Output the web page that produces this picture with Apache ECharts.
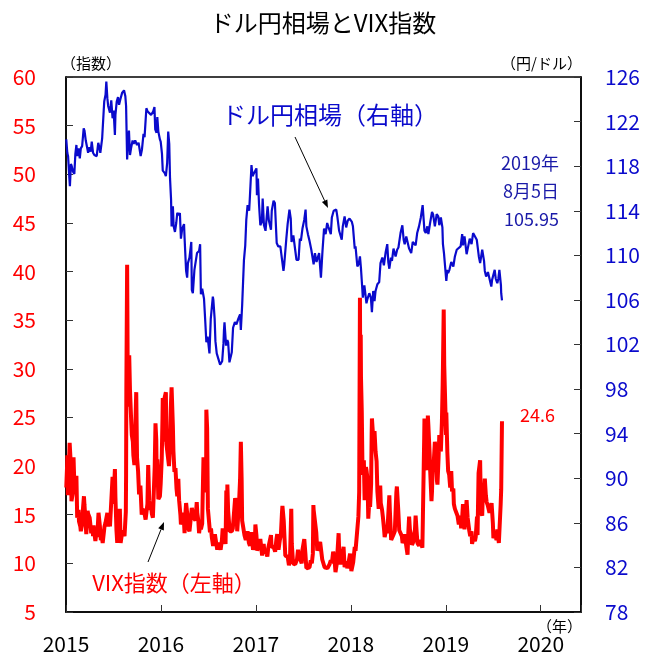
<!DOCTYPE html>
<html>
<head>
<meta charset="utf-8">
<script src="https://cdn.jsdelivr.net/npm/echarts@6/dist/echarts.min.js"></script>
<style>
html, body { margin: 0; padding: 0; background: #fff; }
#chart { width: 646px; height: 655px; }
</style>
</head>
<body>
<div id="chart"></div>
<script>
// ドル円相場 (右軸, 円/ドル) [日付, 値]
const jpyData = [
  ['2015-01-02',120.4],['2015-01-06',119.2],['2015-01-09',118.9],['2015-01-14',116.9],['2015-01-16',116.2],['2015-01-20',118.2],
  ['2015-01-23',118.0],['2015-01-28',117.5],['2015-02-02',117.3],['2015-02-06',119.1],['2015-02-10',119.9],['2015-02-13',118.9],
  ['2015-02-18',119.6],['2015-02-23',118.7],['2015-02-27',119.6],['2015-03-04',119.8],['2015-03-10',121.4],['2015-03-13',121.2],
  ['2015-03-18',120.3],['2015-03-23',119.7],['2015-03-27',119.2],['2015-04-01',119.7],['2015-04-06',119.3],['2015-04-10',120.2],
  ['2015-04-15',119.2],['2015-04-20',119.0],['2015-04-24',118.9],['2015-04-29',118.9],['2015-05-05',120.1],['2015-05-08',119.8],
  ['2015-05-13',119.2],['2015-05-20',120.5],['2015-05-26',123.0],['2015-05-28',123.8],['2015-06-02',124.4],['2015-06-05',125.6],
  ['2015-06-09',124.1],['2015-06-12',123.4],['2015-06-17',123.4],['2015-06-19',122.8],['2015-06-24',123.9],['2015-06-29',122.3],
  ['2015-07-03',123.0],['2015-07-08',120.8],['2015-07-10',122.6],['2015-07-15',123.8],['2015-07-20',124.2],['2015-07-24',123.5],
  ['2015-07-29',124.0],['2015-08-05',124.6],['2015-08-12',124.8],['2015-08-17',124.3],['2015-08-20',123.4],['2015-08-24',118.6],
  ['2015-08-27',120.0],['2015-08-31',121.2],['2015-09-04',119.0],['2015-09-08',119.6],['2015-09-14',120.3],['2015-09-18',120.0],
  ['2015-09-24',120.3],['2015-10-01',119.9],['2015-10-07',120.1],['2015-10-15',118.9],['2015-10-20',119.5],['2015-10-26',120.9],
  ['2015-10-30',120.6],['2015-11-06',123.2],['2015-11-11',122.9],['2015-11-18',123.0],['2015-11-24',122.6],['2015-12-02',122.9],
  ['2015-12-07',123.3],['2015-12-10',121.3],['2015-12-15',121.0],['2015-12-18',122.4],['2015-12-22',121.1],['2015-12-28',120.4],
  ['2015-12-31',120.2],['2016-01-05',119.1],['2016-01-08',117.6],['2016-01-12',117.5],['2016-01-15',117.4],['2016-01-20',117.1],
  ['2016-01-25',118.3],['2016-01-29',121.1],['2016-02-02',120.0],['2016-02-05',116.9],['2016-02-09',115.0],['2016-02-11',112.6],
  ['2016-02-16',114.4],['2016-02-19',112.6],['2016-02-24',112.1],['2016-02-29',112.9],['2016-03-04',113.8],['2016-03-10',113.6],
  ['2016-03-14',113.8],['2016-03-18',111.5],['2016-03-23',112.4],['2016-03-30',112.8],['2016-04-01',111.6],['2016-04-07',108.6],
  ['2016-04-11',108.0],['2016-04-14',109.3],['2016-04-20',109.8],['2016-04-27',111.2],['2016-04-29',106.9],['2016-05-03',106.6],
  ['2016-05-09',108.7],['2016-05-13',108.7],['2016-05-19',110.2],['2016-05-27',110.4],['2016-05-31',111.0],['2016-06-03',106.5],
  ['2016-06-08',107.0],['2016-06-15',106.1],['2016-06-20',104.0],['2016-06-24',102.2],['2016-06-29',102.7],['2016-07-06',101.2],
  ['2016-07-11',104.3],['2016-07-19',106.3],['2016-07-21',106.0],['2016-07-26',104.3],['2016-07-29',102.3],['2016-08-03',101.2],
  ['2016-08-10',101.2],['2016-08-16',100.2],['2016-08-18',100.1],['2016-08-24',100.5],['2016-08-29',102.1],['2016-08-31',103.3],
  ['2016-09-02',104.0],['2016-09-08',101.9],['2016-09-13',102.4],['2016-09-16',102.2],['2016-09-21',100.4],['2016-09-27',100.5],
  ['2016-09-30',101.3],['2016-10-05',103.5],['2016-10-12',104.0],['2016-10-18',103.8],['2016-10-25',104.3],['2016-11-01',104.7],
  ['2016-11-04',103.3],['2016-11-09',105.5],['2016-11-11',106.7],['2016-11-16',109.6],['2016-11-21',110.9],['2016-11-25',113.2],
  ['2016-11-30',114.5],['2016-12-06',114.0],['2016-12-09',115.3],['2016-12-15',118.1],['2016-12-19',117.1],['2016-12-23',117.3],
  ['2016-12-28',117.4],['2017-01-03',117.8],['2017-01-05',115.4],['2017-01-09',116.9],['2017-01-13',114.6],['2017-01-18',112.7],
  ['2017-01-24',113.0],['2017-01-27',115.1],['2017-02-01',112.7],['2017-02-07',112.2],['2017-02-15',114.4],['2017-02-20',113.1],
  ['2017-02-28',112.3],['2017-03-03',114.0],['2017-03-10',114.9],['2017-03-15',114.7],['2017-03-22',111.1],['2017-03-28',110.8],
  ['2017-04-05',110.8],['2017-04-11',110.7],['2017-04-17',108.6],['2017-04-20',109.2],['2017-04-28',111.5],['2017-05-03',112.8],
  ['2017-05-10',114.1],['2017-05-15',113.3],['2017-05-18',111.2],['2017-05-25',111.8],['2017-06-01',110.5],['2017-06-06',109.6],
  ['2017-06-14',109.6],['2017-06-19',111.5],['2017-06-23',111.3],['2017-06-29',112.4],['2017-07-06',113.2],['2017-07-11',114.1],
  ['2017-07-14',112.6],['2017-07-20',111.9],['2017-07-26',111.3],['2017-08-02',110.5],['2017-08-08',110.6],['2017-08-11',109.2],
  ['2017-08-16',110.2],['2017-08-22',109.4],['2017-08-29',109.4],['2017-09-01',110.2],['2017-09-08',108.0],['2017-09-14',110.4],
  ['2017-09-20',112.4],['2017-09-26',111.9],['2017-10-02',112.9],['2017-10-06',112.6],['2017-10-16',111.9],['2017-10-20',113.4],
  ['2017-10-27',114.0],['2017-11-06',114.1],['2017-11-10',113.5],['2017-11-17',112.2],['2017-11-27',111.4],['2017-12-01',112.6],
  ['2017-12-08',113.5],['2017-12-14',112.5],['2017-12-20',113.1],['2017-12-27',113.3],['2018-01-05',113.0],['2018-01-09',112.6],
  ['2018-01-16',110.6],['2018-01-19',110.8],['2018-01-26',109.0],['2018-01-31',109.2],['2018-02-05',109.9],['2018-02-09',108.8],
  ['2018-02-14',107.0],['2018-02-16',106.2],['2018-02-22',107.3],['2018-03-02',105.7],['2018-03-06',106.1],['2018-03-13',106.6],
  ['2018-03-19',106.2],['2018-03-23',104.9],['2018-03-28',106.8],['2018-04-02',105.9],['2018-04-06',106.8],['2018-04-13',107.4],
  ['2018-04-20',107.6],['2018-04-25',109.3],['2018-05-02',109.8],['2018-05-08',109.1],['2018-05-15',110.3],['2018-05-21',111.0],
  ['2018-05-25',109.4],['2018-05-29',108.8],['2018-06-04',109.8],['2018-06-08',109.5],['2018-06-14',110.6],['2018-06-22',109.9],
  ['2018-06-28',110.5],['2018-07-03',110.7],['2018-07-11',112.0],['2018-07-18',112.7],['2018-07-23',111.4],['2018-07-27',111.0],
  ['2018-08-02',111.7],['2018-08-13',110.6],['2018-08-21',110.2],['2018-08-27',111.2],['2018-09-07',110.9],['2018-09-13',112.0],
  ['2018-09-20',112.6],['2018-09-27',113.4],['2018-10-04',114.5],['2018-10-11',112.2],['2018-10-16',112.0],['2018-10-22',112.6],
  ['2018-10-26',111.9],['2018-11-01',112.8],['2018-11-09',113.9],['2018-11-13',113.7],['2018-11-20',112.6],['2018-11-27',113.7],
  ['2018-12-03',113.5],['2018-12-07',112.7],['2018-12-13',113.4],['2018-12-19',112.5],['2018-12-21',111.0],['2018-12-25',110.2],
  ['2018-12-28',110.2],['2019-01-03',107.7],['2019-01-07',108.7],['2019-01-10',108.4],['2019-01-15',108.7],['2019-01-22',109.4],
  ['2019-01-30',109.0],['2019-02-05',109.9],['2019-02-12',110.5],['2019-02-19',110.6],['2019-02-27',110.8],['2019-03-05',111.9],
  ['2019-03-08',110.9],['2019-03-14',111.7],['2019-03-22',110.1],['2019-03-25',110.0],['2019-04-03',111.5],['2019-04-10',111.0],
  ['2019-04-16',112.0],['2019-04-23',112.0],['2019-04-30',111.4],['2019-05-08',109.9],['2019-05-13',109.3],['2019-05-21',110.5],
  ['2019-05-28',109.5],['2019-05-31',108.6],['2019-06-05',108.1],['2019-06-12',108.5],['2019-06-18',108.4],['2019-06-25',107.2],
  ['2019-06-28',107.8],['2019-07-03',107.8],['2019-07-08',108.7],['2019-07-12',107.9],['2019-07-18',107.5],['2019-07-22',107.9],
  ['2019-07-26',108.7],['2019-07-31',108.6],['2019-08-01',107.3],['2019-08-02',106.6],['2019-08-05',105.95]
];

// VIX指数 (左軸) [日付, 値]
const vixData = [
  ['2015-01-02',17.8],['2015-01-05',19.9],['2015-01-06',21.1],['2015-01-08',17.0],['2015-01-13',20.6],['2015-01-15',22.4],
  ['2015-01-20',19.9],['2015-01-22',16.4],['2015-01-27',17.2],['2015-01-30',20.9],['2015-02-03',17.3],['2015-02-06',17.3],
  ['2015-02-10',19.0],['2015-02-13',14.7],['2015-02-18',15.5],['2015-02-20',14.3],['2015-02-25',13.8],['2015-02-27',13.3],
  ['2015-03-03',13.9],['2015-03-06',15.2],['2015-03-11',16.9],['2015-03-13',16.0],['2015-03-18',13.9],['2015-03-20',13.0],
  ['2015-03-25',15.4],['2015-03-27',15.1],['2015-03-31',15.3],['2015-04-02',14.7],['2015-04-08',13.1],['2015-04-13',13.9],
  ['2015-04-15',12.8],['2015-04-17',13.9],['2015-04-22',12.7],['2015-04-24',12.3],['2015-04-29',13.4],['2015-05-01',12.7],
  ['2015-05-06',15.2],['2015-05-11',13.9],['2015-05-15',12.4],['2015-05-19',12.7],['2015-05-22',12.1],['2015-05-27',13.3],
  ['2015-05-29',13.8],['2015-06-02',14.2],['2015-06-05',14.2],['2015-06-09',15.2],['2015-06-12',13.8],['2015-06-17',14.5],
  ['2015-06-19',13.8],['2015-06-24',14.0],['2015-06-29',18.9],['2015-07-02',16.1],['2015-07-08',19.7],['2015-07-10',16.8],
  ['2015-07-14',13.4],['2015-07-17',12.1],['2015-07-22',12.1],['2015-07-27',15.6],['2015-07-30',12.1],['2015-08-04',13.0],
  ['2015-08-07',13.4],['2015-08-12',13.6],['2015-08-14',12.8],['2015-08-19',15.3],['2015-08-20',19.1],['2015-08-21',28.0],
  ['2015-08-24',40.7],['2015-08-25',36.0],['2015-08-26',30.3],['2015-08-28',26.1],['2015-09-01',31.4],['2015-09-04',27.8],
  ['2015-09-09',24.4],['2015-09-11',23.2],['2015-09-15',22.5],['2015-09-17',21.1],['2015-09-21',20.1],['2015-09-24',23.5],
  ['2015-09-28',27.6],['2015-10-01',20.9],['2015-10-05',19.5],['2015-10-09',17.1],['2015-10-14',18.0],['2015-10-19',15.0],
  ['2015-10-22',15.6],['2015-10-27',15.4],['2015-10-30',15.1],['2015-11-03',14.5],['2015-11-06',14.3],['2015-11-10',16.1],
  ['2015-11-13',20.1],['2015-11-17',16.5],['2015-11-20',15.5],['2015-11-24',15.9],['2015-11-27',15.1],['2015-12-01',14.7],
  ['2015-12-04',14.8],['2015-12-08',19.9],['2015-12-11',24.4],['2015-12-14',22.7],['2015-12-16',17.9],['2015-12-18',20.7],
  ['2015-12-22',16.6],['2015-12-28',16.9],['2015-12-31',18.2],['2016-01-04',20.7],['2016-01-07',25.0],['2016-01-08',27.0],
  ['2016-01-12',22.5],['2016-01-15',27.0],['2016-01-20',27.6],['2016-01-22',22.3],['2016-01-26',22.5],['2016-01-28',22.4],
  ['2016-02-01',20.0],['2016-02-04',21.8],['2016-02-08',26.0],['2016-02-11',28.1],['2016-02-16',24.1],['2016-02-18',21.6],
  ['2016-02-22',19.4],['2016-02-26',19.8],['2016-03-01',17.7],['2016-03-04',16.9],['2016-03-08',18.7],['2016-03-11',16.5],
  ['2016-03-16',15.0],['2016-03-18',14.0],['2016-03-23',14.2],['2016-03-28',15.2],['2016-04-01',13.1],['2016-04-05',15.4],
  ['2016-04-07',16.2],['2016-04-12',14.9],['2016-04-15',13.6],['2016-04-20',13.3],['2016-04-26',13.2],['2016-04-29',15.7],
  ['2016-05-03',15.6],['2016-05-06',14.7],['2016-05-11',14.7],['2016-05-13',14.4],['2016-05-18',16.3],['2016-05-20',15.2],
  ['2016-05-24',14.4],['2016-05-27',13.1],['2016-06-01',14.2],['2016-06-03',13.5],['2016-06-08',14.1],['2016-06-10',17.0],
  ['2016-06-13',20.9],['2016-06-16',19.4],['2016-06-21',18.5],['2016-06-23',17.3],['2016-06-24',25.8],['2016-06-27',23.9],
  ['2016-06-30',15.6],['2016-07-05',15.6],['2016-07-08',13.2],['2016-07-12',13.6],['2016-07-15',12.7],['2016-07-20',11.8],
  ['2016-07-22',12.0],['2016-07-27',13.0],['2016-08-01',13.0],['2016-08-05',11.4],['2016-08-10',12.1],['2016-08-15',11.8],
  ['2016-08-18',11.4],['2016-08-23',12.4],['2016-08-26',13.6],['2016-08-31',13.4],['2016-09-06',12.0],['2016-09-09',17.5],
  ['2016-09-12',15.2],['2016-09-13',18.1],['2016-09-16',15.4],['2016-09-20',15.5],['2016-09-22',13.3],['2016-09-27',13.1],
  ['2016-09-30',13.3],['2016-10-04',13.6],['2016-10-07',13.5],['2016-10-13',16.7],['2016-10-17',16.2],['2016-10-21',13.3],
  ['2016-10-25',13.5],['2016-10-28',16.2],['2016-11-01',18.6],['2016-11-04',22.5],['2016-11-07',18.7],['2016-11-09',14.4],
  ['2016-11-14',14.5],['2016-11-18',12.9],['2016-11-23',12.4],['2016-11-30',13.3],['2016-12-05',12.1],['2016-12-09',11.8],
  ['2016-12-14',13.2],['2016-12-21',11.4],['2016-12-28',12.0],['2016-12-30',14.0],['2017-01-03',12.9],['2017-01-06',11.3],
  ['2017-01-11',11.5],['2017-01-13',11.2],['2017-01-18',12.5],['2017-01-25',10.8],['2017-01-31',12.0],['2017-02-03',11.0],
  ['2017-02-07',11.4],['2017-02-14',10.7],['2017-02-17',11.5],['2017-02-22',11.7],['2017-02-28',12.9],['2017-03-02',11.7],
  ['2017-03-07',11.5],['2017-03-10',11.7],['2017-03-16',11.2],['2017-03-21',12.5],['2017-03-24',13.0],['2017-03-29',11.4],
  ['2017-04-03',12.4],['2017-04-07',12.9],['2017-04-11',15.1],['2017-04-13',15.9],['2017-04-18',14.4],['2017-04-21',14.6],
  ['2017-04-24',10.8],['2017-04-28',10.8],['2017-05-03',10.7],['2017-05-08',9.8],['2017-05-12',10.4],['2017-05-17',15.6],
  ['2017-05-19',12.0],['2017-05-24',10.0],['2017-05-26',9.8],['2017-06-01',9.9],['2017-06-05',10.1],['2017-06-08',10.4],
  ['2017-06-12',11.4],['2017-06-15',10.9],['2017-06-20',10.9],['2017-06-26',10.0],['2017-06-29',11.4],['2017-07-06',12.5],
  ['2017-07-10',11.1],['2017-07-14',9.5],['2017-07-21',9.4],['2017-07-26',9.6],['2017-07-31',10.3],['2017-08-04',10.0],
  ['2017-08-08',11.0],['2017-08-10',16.0],['2017-08-11',15.5],['2017-08-17',15.6],['2017-08-21',13.2],['2017-08-25',11.3],
  ['2017-08-29',11.7],['2017-09-05',12.2],['2017-09-08',12.1],['2017-09-13',10.4],['2017-09-18',10.2],['2017-09-22',9.6],
  ['2017-09-28',9.6],['2017-10-03',9.5],['2017-10-06',9.7],['2017-10-11',9.9],['2017-10-16',10.3],['2017-10-20',10.0],
  ['2017-10-25',11.2],['2017-10-30',10.5],['2017-11-03',9.1],['2017-11-08',10.0],['2017-11-15',13.1],['2017-11-17',11.4],
  ['2017-11-22',9.9],['2017-11-29',10.7],['2017-12-04',11.7],['2017-12-08',9.6],['2017-12-13',10.2],['2017-12-18',9.5],
  ['2017-12-22',9.9],['2017-12-29',11.0],['2018-01-03',9.2],['2018-01-05',9.2],['2018-01-10',10.1],['2018-01-16',11.7],
  ['2018-01-19',11.3],['2018-01-24',11.5],['2018-01-26',11.1],['2018-01-30',14.8],['2018-02-02',17.3],['2018-02-05',37.3],
  ['2018-02-06',30.0],['2018-02-08',33.5],['2018-02-09',29.1],['2018-02-12',25.6],['2018-02-15',19.1],['2018-02-20',20.6],
  ['2018-02-23',16.5],['2018-02-28',19.9],['2018-03-02',19.6],['2018-03-06',18.7],['2018-03-09',14.6],['2018-03-13',16.4],
  ['2018-03-16',15.8],['2018-03-20',18.2],['2018-03-22',23.3],['2018-03-23',24.9],['2018-03-28',22.9],['2018-04-02',23.6],
  ['2018-04-06',21.5],['2018-04-10',20.5],['2018-04-13',17.4],['2018-04-18',15.6],['2018-04-24',18.0],['2018-04-26',16.2],
  ['2018-05-01',15.5],['2018-05-04',14.8],['2018-05-09',13.4],['2018-05-11',12.7],['2018-05-16',13.4],['2018-05-21',13.1],
  ['2018-05-25',13.2],['2018-05-29',17.0],['2018-05-31',15.4],['2018-06-05',12.4],['2018-06-08',12.2],['2018-06-13',12.9],
  ['2018-06-19',13.3],['2018-06-25',17.3],['2018-06-27',17.9],['2018-07-02',15.6],['2018-07-06',13.4],['2018-07-11',13.6],
  ['2018-07-16',12.8],['2018-07-19',12.1],['2018-07-24',12.4],['2018-07-27',13.0],['2018-08-01',13.2],['2018-08-03',11.6],
  ['2018-08-07',10.9],['2018-08-10',13.2],['2018-08-13',14.8],['2018-08-16',13.5],['2018-08-21',12.9],['2018-08-24',11.9],
  ['2018-08-29',12.2],['2018-09-04',13.2],['2018-09-07',14.9],['2018-09-11',13.2],['2018-09-14',12.1],['2018-09-20',11.8],
  ['2018-09-26',12.4],['2018-10-03',11.6],['2018-10-05',14.8],['2018-10-10',22.9],['2018-10-11',24.9],['2018-10-15',21.3],
  ['2018-10-18',20.1],['2018-10-22',19.6],['2018-10-24',25.2],['2018-10-26',24.2],['2018-10-31',21.2],['2018-11-02',19.5],
  ['2018-11-07',16.4],['2018-11-09',17.4],['2018-11-12',20.5],['2018-11-15',20.0],['2018-11-20',22.5],['2018-11-23',21.5],
  ['2018-11-28',18.5],['2018-11-30',18.1],['2018-12-04',20.7],['2018-12-07',23.2],['2018-12-10',22.6],['2018-12-13',21.5],
  ['2018-12-17',24.5],['2018-12-20',28.4],['2018-12-21',30.1],['2018-12-24',36.1],['2018-12-26',30.4],['2018-12-28',28.3],
  ['2019-01-02',23.2],['2019-01-03',25.5],['2019-01-07',21.4],['2019-01-10',19.5],['2019-01-14',19.1],['2019-01-18',17.8],
  ['2019-01-22',19.5],['2019-01-25',17.4],['2019-01-30',17.7],['2019-02-01',16.1],['2019-02-05',15.6],['2019-02-08',15.7],
  ['2019-02-12',15.4],['2019-02-15',14.9],['2019-02-20',14.0],['2019-02-26',14.9],['2019-03-01',13.6],['2019-03-05',14.7],
  ['2019-03-08',16.1],['2019-03-11',14.3],['2019-03-14',13.5],['2019-03-19',13.6],['2019-03-22',16.5],['2019-03-26',14.7],
  ['2019-04-01',13.4],['2019-04-05',12.8],['2019-04-10',13.3],['2019-04-12',12.0],['2019-04-17',12.6],['2019-04-23',12.3],
  ['2019-04-26',12.7],['2019-05-01',14.8],['2019-05-03',12.9],['2019-05-07',19.3],['2019-05-09',19.1],['2019-05-13',20.6],
  ['2019-05-16',15.3],['2019-05-21',14.9],['2019-05-23',16.9],['2019-05-29',17.9],['2019-05-31',18.7],['2019-06-04',17.0],
  ['2019-06-07',16.3],['2019-06-11',16.0],['2019-06-13',15.8],['2019-06-18',15.2],['2019-06-21',15.4],['2019-06-26',16.2],
  ['2019-07-01',14.1],['2019-07-03',12.6],['2019-07-09',13.0],['2019-07-15',12.4],['2019-07-18',13.5],['2019-07-24',12.1],
  ['2019-07-26',12.2],['2019-07-31',16.1],['2019-08-02',17.6],['2019-08-05',24.6]
];

const FONT = '"Noto Sans CJK JP", "Noto Sans", sans-serif';
const BLUE = '#0a0acc';
const RED = '#ff0000';
const NAVY = '#1a1aa8';

// 日付 → 年 (小数)
function toYear(s) {
  const p = s.split('-').map(Number);
  const t = Date.UTC(p[0], p[1] - 1, p[2]);
  const a = Date.UTC(p[0], 0, 1);
  const b = Date.UTC(p[0] + 1, 0, 1);
  return p[0] + (t - a) / (b - a);
}

function toSeries(rows) {
  return rows.map(r => [toYear(r[0]), r[1]]);
}

// 矢印 (線 + 三角)
function arrow(x1, y1, x2, y2) {
  const dx = x2 - x1, dy = y2 - y1;
  const len = Math.sqrt(dx * dx + dy * dy);
  const ux = dx / len, uy = dy / len;
  const bx = x2 - ux * 8, by = y2 - uy * 8;
  return [
    { type: 'line', shape: { x1: x1, y1: y1, x2: bx, y2: by }, style: { stroke: '#000', lineWidth: 1 } },
    { type: 'polygon', shape: { points: [[x2, y2], [bx - uy * 3, by + ux * 3], [bx + uy * 3, by - ux * 3]] }, style: { fill: '#000' } }
  ];
}

function text(x, y, str, size, color, align) {
  return {
    type: 'text', x: x, y: y,
    style: { text: str, fill: color, font: size + 'px ' + FONT, align: align || 'left', verticalAlign: 'middle' }
  };
}

const chart = echarts.init(document.getElementById('chart'));
chart.setOption({
  animation: false,
  backgroundColor: '#fff',
  title: {
    text: 'ドル円相場とVIX指数',
    left: 'center', top: 6,
    textStyle: { fontFamily: FONT, fontSize: 24, fontWeight: 'normal', color: '#000' }
  },
  grid: {
    left: 66, right: 65, top: 77, bottom: 43,
    show: true, borderColor: '#000', borderWidth: 1.5, backgroundColor: 'transparent'
  },
  xAxis: {
    type: 'value', min: 2015, max: 2020.424, interval: 1,
    splitLine: { show: false },
    axisLine: { lineStyle: { color: '#000', width: 1.5 } },
    axisTick: { inside: true, length: 7, lineStyle: { color: '#333' } },
    axisLabel: {
      margin: 22, fontSize: 21, color: '#000', fontFamily: FONT,
      formatter: v => (Number.isInteger(v) ? String(v) : '')
    }
  },
  yAxis: [
    {
      type: 'value', min: 5, max: 60, interval: 5, position: 'left',
      splitLine: { show: false },
      axisLine: { show: true, lineStyle: { color: '#000', width: 1.5 } },
      axisTick: { show: true, inside: true, length: 7, lineStyle: { color: '#333' } },
      axisLabel: { margin: 30, fontSize: 21, color: RED, fontFamily: FONT }
    },
    {
      type: 'value', min: 78, max: 126, interval: 4, position: 'right',
      splitLine: { show: false },
      axisLine: { show: true, lineStyle: { color: '#000', width: 1.5 } },
      axisTick: { show: true, inside: true, length: 7, lineStyle: { color: '#333' } },
      axisLabel: { margin: 24, fontSize: 21, color: BLUE, fontFamily: FONT }
    }
  ],
  series: [
    {
      name: 'VIX指数', type: 'line', yAxisIndex: 0,
      showSymbol: false, symbol: 'none',
      lineStyle: { color: RED, width: 4 },
      data: toSeries(vixData)
    },
    {
      name: 'ドル円相場', type: 'line', yAxisIndex: 1,
      showSymbol: false, symbol: 'none',
      lineStyle: { color: BLUE, width: 2.2 },
      data: toSeries(jpyData)
    }
  ],
  graphic: [
    text(91, 63, '（指数）', 15, '#000', 'center'),
    text(582, 63, '（円/ドル）', 15, '#000', 'right'),
    text(582, 626, '（年）', 15, '#000', 'right'),
    text(330, 115, 'ドル円相場（右軸）', 24, BLUE, 'center'),
    text(174, 583, 'VIX指数（左軸）', 22, RED, 'center'),
    text(559, 163, '2019年', 18, NAVY, 'right'),
    text(559, 191, '8月5日', 18, NAVY, 'right'),
    text(559, 219, '105.95', 18, NAVY, 'right'),
    text(520, 415, '24.6', 18, RED, 'left')
  ].concat(arrow(295, 137, 328, 208), arrow(148, 562, 164, 522))
});
</script>
</body>
</html>
